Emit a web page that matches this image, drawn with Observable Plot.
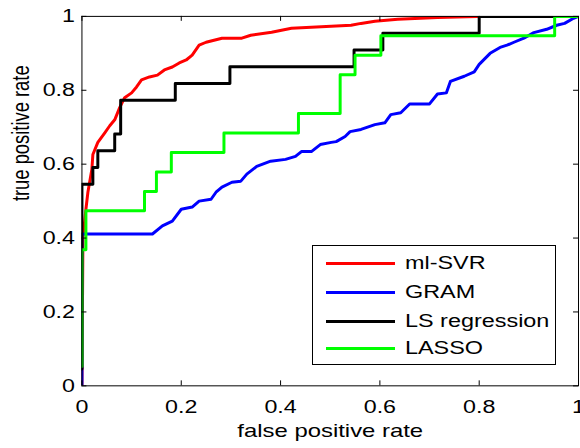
<!DOCTYPE html>
<html><head><meta charset="utf-8">
<script src="https://cdn.jsdelivr.net/npm/d3@7"></script>
<script src="https://cdn.jsdelivr.net/npm/@observablehq/plot@0.6"></script>
<style>
html,body{margin:0;padding:0;background:#fff;overflow:hidden;}
#wrap{position:relative;width:580px;height:448px;overflow:hidden;font-family:"Liberation Sans",Arial,sans-serif;}
#legend{position:absolute;left:312px;top:245px;width:244px;height:120px;border:1px solid #000;background:#fff;box-sizing:border-box;}
.row{position:absolute;left:0;height:0;}
.sw{position:absolute;left:13px;width:69px;height:3px;top:-1.5px;}
.lt{position:absolute;left:92px;top:-11px;font-size:18px;line-height:22px;white-space:nowrap;transform:scaleX(1.3);transform-origin:left center;color:#000;}
</style></head>
<body><div id="wrap"></div>
<script>
// ---- data ----
const seriesNames = ["ml-SVR", "GRAM", "LS regression", "LASSO"];
const seriesColors = ["#ff0000", "#0000ff", "#000000", "#00ff00"];

const svrFpr = [0,0.002,0.008,0.012,0.02,0.022,0.032,0.046,0.056,0.066,0.076,0.086,0.10,0.11,0.12,0.136,0.152,0.166,0.182,0.196,0.21,0.222,0.236,0.25,0.282,0.322,0.34,0.382,0.422,0.452,0.542,0.562,0.59,0.636,0.716,0.796,1];
const svrTpr = [0,0.40,0.478,0.524,0.586,0.626,0.659,0.685,0.704,0.72,0.753,0.78,0.793,0.809,0.828,0.836,0.841,0.855,0.863,0.874,0.882,0.895,0.922,0.93,0.941,0.941,0.949,0.957,0.968,0.97,0.976,0.981,0.987,0.992,0.997,1,1];

const gramFpr = [0,0,0.142,0.162,0.182,0.2,0.222,0.236,0.26,0.27,0.282,0.302,0.32,0.332,0.352,0.38,0.41,0.43,0.442,0.462,0.48,0.502,0.512,0.53,0.54,0.562,0.59,0.61,0.622,0.642,0.66,0.70,0.716,0.734,0.742,0.77,0.79,0.80,0.822,0.842,0.856,0.87,0.89,0.91,0.936,0.956,0.972,0.99,1];
const gramTpr = [0,0.411,0.411,0.433,0.446,0.478,0.484,0.5,0.505,0.524,0.538,0.551,0.554,0.573,0.594,0.608,0.613,0.621,0.634,0.634,0.653,0.659,0.661,0.675,0.688,0.694,0.707,0.712,0.734,0.739,0.763,0.763,0.79,0.793,0.824,0.838,0.85,0.87,0.90,0.916,0.922,0.93,0.941,0.956,0.965,0.976,0.981,0.995,1];

// step curves: (fpr where the step rises, tpr after the step)
const lsFpr = [0,0,0.022,0.032,0.066,0.078,0.188,0.298,0.548,0.606,0.80,1];
const lsTpr = [1/22,12/22,13/22,14/22,15/22,17/22,18/22,19/22,20/22,21/22,1,1];

const lassoFpr = [0,0,0.008,0.126,0.15,0.18,0.286,0.436,0.52,0.55,0.602,0.952,1];
const lassoTpr = [1/19,7/19,9/19,10/19,11/19,12/19,13/19,14/19,16/19,17/19,18/19,1,1];

const xTicks = [0,0.2,0.4,0.6,0.8,1];
const xTickLabels = ["0","0.2","0.4","0.6","0.8","1"];
const yTicks = [0,0.2,0.4,0.6,0.8,1];
const yTickLabels = ["0","0.2","0.4","0.6","0.8","1"];
const xLabel = "false positive rate";
const yLabel = "true positive rate";

// ---- build ----
const toRows = (xs, ys) => xs.map((x, i) => ({x, y: ys[i]}));
const svr = toRows(svrFpr, svrTpr);
const gram = toRows(gramFpr, gramTpr);
const ls = toRows(lsFpr, lsTpr);
const lasso = toRows(lassoFpr, lassoTpr);

const W = 584, H = 448, mL = 82, mR = 2, mT = 16, mB = 60;
const innerW = W - mL - mR, innerH = H - mT - mB, TL = 5;
const font = {fontFamily: "Liberation Sans, Arial, sans-serif"};

const chart = Plot.plot({
  width: W, height: H,
  marginLeft: mL, marginRight: mR, marginTop: mT, marginBottom: mB,
  style: {fontFamily: "Liberation Sans, Arial, sans-serif", color: "#000", background: "#fff", overflow: "visible"},
  x: {domain: [0, 1]},
  y: {domain: [0, 1]},
  marks: [
    Plot.line(svr, {x: "x", y: "y", stroke: seriesColors[0], strokeWidth: 3, clip: true}),
    Plot.line(gram, {x: "x", y: "y", stroke: seriesColors[1], strokeWidth: 3, clip: true}),
    Plot.line(ls, {x: "x", y: "y", stroke: seriesColors[2], strokeWidth: 3, curve: "step-after", clip: true}),
    Plot.line(lasso, {x: "x", y: "y", stroke: seriesColors[3], strokeWidth: 3, curve: "step-after", clip: true}),
    // inward ticks on all four sides
    Plot.ruleX(xTicks, {x: d => d, insetTop: innerH - TL, stroke: "#000"}),
    Plot.ruleX(xTicks, {x: d => d, insetBottom: innerH - TL, stroke: "#000"}),
    Plot.ruleY(yTicks, {y: d => d, insetRight: innerW - TL, stroke: "#000"}),
    Plot.ruleY(yTicks, {y: d => d, insetLeft: innerW - TL, stroke: "#000"}),
    Plot.frame({stroke: "#000", strokeWidth: 1}),
    Plot.axisX({ticks: xTicks, tickFormat: d => xTickLabels[xTicks.indexOf(d)], tickSize: 0, tickPadding: 15, fontSize: 18, label: null, ...font}),
    Plot.axisY({ticks: yTicks, tickFormat: d => yTickLabels[yTicks.indexOf(d)], tickSize: 0, tickPadding: 7, fontSize: 18, label: null, ...font}),
    Plot.text([xLabel], {text: d => d, frameAnchor: "bottom", dy: 46, lineAnchor: "middle", fontSize: 18.5, fill: "#000", ...font}),
    Plot.text([yLabel], {text: d => d, frameAnchor: "left", dx: -61, rotate: -90, lineAnchor: "middle", fontSize: 18.5, fill: "#000", ...font})
  ]
});

// horizontally widen the text, as in the reference
const SX = 1.3;
d3.select(chart).selectAll("text").each(function() {
  const t = d3.select(this);
  const tr = t.attr("transform") || "";
  if (tr.includes("rotate")) { t.attr("transform", tr + ` scale(1,${SX})`); return; }
  if (tr) t.attr("transform", tr + ` scale(${SX},1)`);
  else {
    const x = +t.attr("x") || 0, y = +t.attr("y") || 0;
    t.attr("transform", `translate(${x},${y}) scale(${SX},1) translate(${-x},${-y})`);
  }
});

const wrap = document.getElementById("wrap");
wrap.appendChild(chart);

// legend
const legend = document.createElement("div");
legend.id = "legend";
const rowTops = [17, 46, 75, 102];
seriesNames.forEach((name, i) => {
  const row = document.createElement("div");
  row.className = "row";
  row.style.top = rowTops[i] + "px";
  const sw = document.createElement("div");
  sw.className = "sw";
  sw.style.background = seriesColors[i];
  const lt = document.createElement("div");
  lt.className = "lt";
  lt.textContent = name;
  row.appendChild(sw); row.appendChild(lt);
  legend.appendChild(row);
});
wrap.appendChild(legend);
</script>
</body></html>
